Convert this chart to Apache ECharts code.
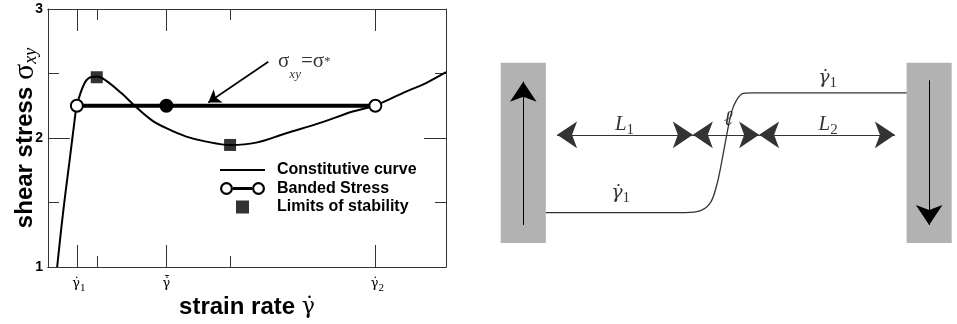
<!DOCTYPE html>
<html><head><meta charset="utf-8">
<script src="https://cdn.jsdelivr.net/npm/echarts@6/dist/echarts.min.js"></script>
<style>html,body{margin:0;padding:0;background:#fff}#c{width:957px;height:324px}</style>
</head><body><div id="c"></div>
<script>
// ---------- Left panel: constitutive curve ----------
const curveX = [0.092, 0.135, 0.175, 0.218, 0.268, 0.291, 0.368, 0.436, 0.492, 0.569, 0.737, 0.871, 1.038, 1.189, 1.390, 1.590, 1.831, 2.092, 2.393, 2.727, 3.062, 3.287, 3.564, 3.799, 4.0];
const curveY = [1.0, 1.311, 1.571, 1.830, 2.141, 2.257, 2.426, 2.473, 2.476, 2.452, 2.348, 2.250, 2.141, 2.076, 2.011, 1.972, 1.946, 1.964, 2.037, 2.115, 2.205, 2.252, 2.348, 2.426, 2.51];
const bandStress = 2.25;
const bandX = [0.29, 1.19, 3.29];
const bandFilled = [false, true, false];
const stabilityX = [0.49, 1.83];
const stabilityY = [2.471, 1.946];
const majorTickValues = [0.29, 1.19, 3.29];
const majorTickSymbols = ['γ\u0307', 'γ\u0307\u0304', 'γ\u0307'];
const majorTickSubs = ['1', '', '2'];
const minorTickValues = [0.49, 1.83];
const annotArrowFrom = [2.214, 2.591];
const annotArrowTo = [1.611, 2.275];
const annotLabelAt = [2.312, 2.59];

// ---------- Right panel: schematic of banded flow ----------
const wallX = [[0, 10], [90, 100]];
const wallY = [0, 40];
const wallArrowX = [5, 95];
const wallArrowFromY = [4, 36.1];
const wallArrowToY = [35.8, 4];
const spanY = 24;
const spanEdges = [12.5, 42.6, 57.3, 87.4];
const profileX = [10, 39.8, 43.5, 46.4, 47.9, 49.0, 50.1, 51.2, 52.3, 53.8, 56.0, 90];
const profileY = [6.72, 6.72, 6.94, 8.80, 12.86, 18.0, 23.9, 29.1, 31.7, 33.2, 33.3, 33.3];
const diagLabelX = [27.45, 50.4, 72.6, 26.6, 72.5];
const diagLabelY = [26.2, 27.3, 26.2, 11.1, 36.6];
const diagLabelText = ['{i|L}{s|1}', '{i|ℓ}', '{i|L}{s|2}', '{g|γ\u0307}{s|1}', '{g|γ\u0307}{s|1}'];

const SERIF = "'Liberation Serif','DejaVu Serif',serif";
const GREEK = "'DejaVu Serif','Liberation Serif',serif";
const SANS = "'Liberation Sans',Arial,sans-serif";
const AX = '#333';

function tickLabel(v) {
  let best = 0;
  majorTickValues.forEach((t, i) => { if (Math.abs(t - v) < Math.abs(majorTickValues[best] - v)) best = i; });
  return '{p|}{g|' + majorTickSymbols[best] + '}' + (majorTickSubs[best] ? '{s|' + majorTickSubs[best] + '}' : '{p|}');
}

function xAxisDef(position, values, len, extra) {
  return Object.assign({
    gridIndex: 0, type: 'value', position: position, min: 0, max: 4,
    axisLine: { show: true, onZero: false, lineStyle: { color: AX, width: 1 } },
    axisTick: { show: true, inside: true, length: len, customValues: values, lineStyle: { color: AX, width: 1 } },
    axisLabel: { show: false },
    splitLine: { show: false }
  }, extra || {});
}
function yAxisDef(position, showLabel, extra) {
  return Object.assign({
    gridIndex: 0, type: 'value', position: position, min: 1, max: 3, interval: 1,
    axisLine: { show: true, onZero: false, lineStyle: { color: AX, width: 1 } },
    axisTick: { show: true, inside: true, length: 22, lineStyle: { color: AX, width: 1 } },
    minorTick: { show: true, splitNumber: 2, length: 11, lineStyle: { color: AX, width: 1 } },
    axisLabel: { show: showLabel, margin: 5, fontFamily: SANS, fontWeight: 'bold', fontSize: 14, color: '#000' },
    splitLine: { show: false }, minorSplitLine: { show: false }
  }, extra || {});
}

const lineIcon = 'path://M0,0H45V2H0Z';
const ringIcon = 'path://M0,6.5A6.5,6.5 0 1,1 13,6.5A6.5,6.5 0 1,1 0,6.5Z' +
  'M2.2,6.5A4.3,4.3 0 1,0 10.8,6.5A4.3,4.3 0 1,0 2.2,6.5Z' +
  'M13,5H32V8H13Z' +
  'M32,6.5A6.5,6.5 0 1,1 45,6.5A6.5,6.5 0 1,1 32,6.5Z' +
  'M34.2,6.5A4.3,4.3 0 1,0 42.8,6.5A4.3,4.3 0 1,0 34.2,6.5Z';

const option = {
  animation: false,
  backgroundColor: '#fff',
  grid: [
    { left: 48, top: 9, width: 398, height: 258 },
    { left: 500.7, top: 62.7, width: 451, height: 180.3 }
  ],
  legend: {
    data: [
      { name: 'Constitutive curve', icon: lineIcon },
      { name: 'Banded Stress', icon: ringIcon },
      { name: 'Limits of stability', icon: 'path://M0,0H10V10H0Z' }
    ],
    orient: 'vertical', left: 220, top: 162, padding: 0, itemWidth: 45, itemHeight: 13, itemGap: 2.5,
    selectedMode: false,
    textStyle: { fontFamily: SANS, fontWeight: 'bold', fontSize: 16, color: '#000', padding: [0, 0, 0, 7] }
  },
  xAxis: [
    xAxisDef('bottom', majorTickValues, 22, {
      axisLabel: {
        show: true, customValues: majorTickValues, margin: 7, formatter: tickLabel,
        rich: {
          p: { width: 4 },
          g: { fontFamily: GREEK, fontSize: 13, color: '#000', lineHeight: 20, verticalAlign: 'middle' },
          s: { fontFamily: SERIF, fontSize: 11, color: '#000', lineHeight: 11, verticalAlign: 'bottom' }
        }
      },
      name: '{a|strain rate }{b|γ\u0307}', nameLocation: 'middle', nameGap: 25, nameMoveOverlap: false,
      nameTextStyle: {
        rich: {
          a: { fontFamily: SANS, fontWeight: 'bold', fontSize: 24, color: '#000', lineHeight: 30, verticalAlign: 'middle' },
          b: { fontFamily: GREEK, fontSize: 22, color: '#000', lineHeight: 30, verticalAlign: 'middle' }
        }
      }
    }),
    xAxisDef('bottom', minorTickValues, 11),
    xAxisDef('top', majorTickValues, 22),
    xAxisDef('top', minorTickValues, 11),
    { gridIndex: 1, type: 'value', min: 0, max: 100, show: false }
  ],
  yAxis: [
    yAxisDef('left', true, {
      name: '{a|shear stress }{b|σ}{c|xy}', nameLocation: 'middle', nameGap: 8, nameMoveOverlap: false,
      nameTextStyle: {
        rich: {
          a: { fontFamily: SANS, fontWeight: 'bold', fontSize: 24, color: '#000', lineHeight: 30, verticalAlign: 'middle' },
          b: { fontFamily: SERIF, fontSize: 30, color: '#000', lineHeight: 30, verticalAlign: 'middle' },
          c: { fontFamily: SERIF, fontStyle: 'italic', fontSize: 18, color: '#000', lineHeight: 18, verticalAlign: 'bottom' }
        }
      }
    }),
    yAxisDef('right', false),
    { gridIndex: 1, type: 'value', min: 0, max: 40, show: false }
  ],
  series: [
    {
      name: 'Constitutive curve', type: 'line', xAxisIndex: 0, yAxisIndex: 0,
      data: curveX.map((x, i) => [x, curveY[i]]),
      smooth: 0.35, showSymbol: false, symbol: 'none',
      lineStyle: { color: '#000', width: 2 }, itemStyle: { color: '#000' }, z: 2
    },
    {
      name: 'Banded Stress', type: 'line', xAxisIndex: 0, yAxisIndex: 0,
      data: bandX.map((x, i) => ({
        value: [x, bandStress],
        itemStyle: bandFilled[i] ? { color: '#000', borderColor: '#000', borderWidth: 2 } : { color: '#fff', borderColor: '#000', borderWidth: 2 }
      })),
      symbol: 'circle', symbolSize: 12, showAllSymbol: true,
      lineStyle: { color: '#000', width: 4 }, itemStyle: { color: '#000' }, z: 3
    },
    {
      name: 'Limits of stability', type: 'scatter', xAxisIndex: 0, yAxisIndex: 0,
      data: stabilityX.map((x, i) => [x, stabilityY[i]]),
      symbol: 'rect', symbolSize: 12, itemStyle: { color: '#000' }, z: 4
    },
    {
      name: 'annotation-arrow', type: 'lines', coordinateSystem: 'cartesian2d', xAxisIndex: 0, yAxisIndex: 0,
      symbol: ['none', 'arrow'], symbolSize: 12,
      lineStyle: { color: '#000', width: 1.6, opacity: 1, curveness: 0 },
      data: [{ coords: [annotArrowFrom, annotArrowTo] }], z: 4
    },
    {
      name: 'annotation-label', type: 'scatter', xAxisIndex: 0, yAxisIndex: 0,
      data: [annotLabelAt], symbolSize: 0,
      label: {
        show: true, position: 'right', distance: 0,
        formatter: '{m|σ}{s|xy}{m|=σ}{p|*}',
        rich: {
          m: { fontFamily: SERIF, fontSize: 21, color: '#000', lineHeight: 38, verticalAlign: 'middle' },
          s: { fontFamily: SERIF, fontStyle: 'italic', fontSize: 13, color: '#000', lineHeight: 13, verticalAlign: 'bottom' },
          p: { fontFamily: SERIF, fontSize: 13, color: '#000', lineHeight: 13, verticalAlign: 'middle' }
        }
      }
    },
    // ----- schematic -----
    {
      name: 'walls', type: 'custom', xAxisIndex: 4, yAxisIndex: 2,
      data: wallX.map(w => [w[0], w[1], wallY[0], wallY[1]]),
      renderItem: function (params, api) {
        const p0 = api.coord([api.value(0), api.value(3)]);
        const p1 = api.coord([api.value(1), api.value(2)]);
        return { type: 'rect', shape: { x: p0[0], y: p0[1], width: p1[0] - p0[0], height: p1[1] - p0[1] }, style: { fill: '#b2b2b2' } };
      }, z: 1
    },
    {
      name: 'profile', type: 'line', xAxisIndex: 4, yAxisIndex: 2,
      data: profileX.map((x, i) => [x, profileY[i]]),
      smooth: 0.35, symbol: 'none',
      lineStyle: { color: '#333', width: 1.3 }, z: 2
    },
    {
      name: 'wall-arrows', type: 'lines', coordinateSystem: 'cartesian2d', xAxisIndex: 4, yAxisIndex: 2,
      symbol: ['none', 'arrow'], symbolSize: 20,
      lineStyle: { color: '#000', width: 1, opacity: 1 },
      data: wallArrowX.map((x, i) => ({ coords: [[x, wallArrowFromY[i]], [x, wallArrowToY[i]]] })), z: 3
    },
    {
      name: 'span-arrows', type: 'lines', coordinateSystem: 'cartesian2d', xAxisIndex: 4, yAxisIndex: 2,
      symbol: ['arrow', 'arrow'], symbolSize: 20,
      lineStyle: { color: '#333', width: 1, opacity: 1 },
      data: spanEdges.slice(0, -1).map((x, i) => ({ coords: [[x, spanY], [spanEdges[i + 1], spanY]] })), z: 3
    },
    {
      name: 'diagram-labels', type: 'scatter', xAxisIndex: 4, yAxisIndex: 2,
      data: diagLabelX.map((x, i) => ({ value: [x, diagLabelY[i]], label: { formatter: diagLabelText[i] } })),
      symbolSize: 0,
      label: {
        show: true, position: 'inside',
        rich: {
          i: { fontFamily: SERIF, fontStyle: 'italic', fontSize: 21, color: '#000', lineHeight: 26, verticalAlign: 'middle' },
          g: { fontFamily: GREEK, fontStyle: 'italic', fontSize: 19, color: '#000', lineHeight: 26, verticalAlign: 'middle' },
          s: { fontFamily: SERIF, fontSize: 15, color: '#000', lineHeight: 15, verticalAlign: 'bottom' }
        }
      }, z: 5
    }
  ]
};

const chart = echarts.init(document.getElementById('c'), null, { renderer: 'canvas' });
chart.setOption(option);
</script>
</body></html>
